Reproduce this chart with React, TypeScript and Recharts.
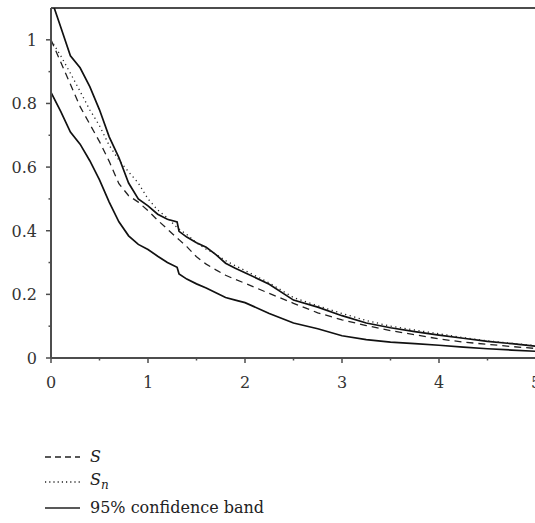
import { LineChart, Line, XAxis, YAxis, Legend, ReferenceLine } from 'recharts'

// time points (non-uniform: denser where the curves bend)
const times = [
  0, 0.1, 0.2, 0.3, 0.4, 0.5, 0.6, 0.7, 0.8, 0.9, 1.0, 1.1, 1.2, 1.3, 1.32, 1.4, 1.5, 1.6, 1.7, 1.8, 1.9, 2.0,
  2.25, 2.5, 2.75, 3.0, 3.25, 3.5, 3.75, 4.0, 4.25, 4.5, 4.75, 5.0,
]

// true survival S (dashed)
const sTrue = [
  1.0, 0.93, 0.86, 0.79, 0.735, 0.68, 0.618, 0.548, 0.51, 0.49, 0.463, 0.433, 0.405, 0.377, 0.372, 0.35, 0.318,
  0.295, 0.277, 0.26, 0.247, 0.235, 0.203, 0.172, 0.142, 0.12, 0.102, 0.086, 0.073, 0.06, 0.05, 0.043, 0.036, 0.03,
]

// estimator S_n (dotted)
const sEmp = [
  1.0, 0.95, 0.895, 0.838, 0.78, 0.73, 0.668, 0.622, 0.585, 0.55, 0.5, 0.465, 0.44, 0.41, 0.405, 0.388, 0.362,
  0.342, 0.326, 0.306, 0.29, 0.275, 0.236, 0.19, 0.164, 0.14, 0.118, 0.1, 0.088, 0.076, 0.064, 0.054, 0.046, 0.039,
]

// 95% confidence band (solid)
const upper = [
  1.13, 1.04, 0.95, 0.912, 0.853, 0.78, 0.695, 0.63, 0.55, 0.5, 0.478, 0.452, 0.436, 0.428, 0.398, 0.38, 0.362,
  0.348, 0.325, 0.298, 0.282, 0.268, 0.232, 0.182, 0.16, 0.133, 0.11, 0.095, 0.083, 0.072, 0.062, 0.052, 0.045, 0.037,
]
const lower = [
  0.835, 0.775, 0.71, 0.672, 0.62, 0.56, 0.49, 0.428, 0.384, 0.357, 0.341, 0.32, 0.3, 0.285, 0.264, 0.248, 0.233,
  0.22, 0.205, 0.19, 0.182, 0.174, 0.14, 0.11, 0.092, 0.07, 0.058, 0.05, 0.045, 0.04, 0.034, 0.029, 0.025, 0.021,
]

const xTicks = [0, 0.5, 1, 1.5, 2, 2.5, 3, 3.5, 4, 4.5, 5]
const yTicks = [0, 0.1, 0.2, 0.3, 0.4, 0.5, 0.6, 0.7, 0.8, 0.9, 1.0]

const data = times.map((t, i) => ({ t, s: sTrue[i], sn: sEmp[i], up: upper[i], lo: lower[i] }))

const FONT = "'DejaVu Serif', serif"
const AXIS = '#4d4d4d'

const XTick = ({ x, y, payload }: any) => {
  const major = Number.isInteger(payload.value)
  return (
    <g>
      <line x1={x} x2={x} y1={y} y2={y + (major ? 5 : 2.5)} stroke={AXIS} strokeWidth={1.5} />
      {major && (
        <text x={x} y={y + 30} textAnchor="middle" style={{ fontFamily: FONT, fontSize: 16 }} fill="#333">
          {payload.value}
        </text>
      )}
    </g>
  )
}

const YTick = ({ x, y, payload }: any) => {
  const major = Math.round(payload.value * 10) % 2 === 0
  return (
    <g>
      <line x1={x} x2={x - (major ? 5 : 2.5)} y1={y} y2={y} stroke={AXIS} strokeWidth={1.5} />
      {major && (
        <text x={x - 14} y={y + 6} textAnchor="end" style={{ fontFamily: FONT, fontSize: 16 }} fill="#333">
          {String(Number(payload.value.toFixed(1)))}
        </text>
      )}
    </g>
  )
}

const legendItems = [
  { key: 's', dash: '6 4', label: <i>S</i> },
  { key: 'sn', dash: '1.2 3', label: <span><i>S</i><sub style={{ fontSize: 12 }}><i>n</i></sub></span> },
  { key: 'band', dash: undefined, label: <span>95% confidence band</span> },
]

const renderLegend = () => (
  <div style={{ fontFamily: FONT, fontSize: 16, color: '#222' }}>
    {legendItems.map((item) => (
      <div key={item.key} style={{ display: 'flex', alignItems: 'center', height: 25.5, whiteSpace: 'nowrap' }}>
        <svg width={36} height={10}>
          <line x1={0} y1={5} x2={35} y2={5} stroke="#222" strokeWidth={1.4} strokeDasharray={item.dash} />
        </svg>
        <span style={{ marginLeft: 9, lineHeight: '18px' }}>{item.label}</span>
      </div>
    ))}
  </div>
)

export default function App() {
  return (
    <div style={{ position: 'absolute', left: 0, top: 0, width: 535, height: 523, overflow: 'hidden', background: '#fff', fontFamily: FONT }}>
      <LineChart width={560} height={523} data={data} margin={{ top: 8, right: 24, bottom: 0, left: 0 }} style={{ fontFamily: FONT }}>
        <XAxis
          dataKey="t"
          type="number"
          domain={[0, 5]}
          ticks={xTicks}
          height={165}
          tickSize={0}
          tickMargin={0}
          tick={<XTick />}
          axisLine={{ stroke: AXIS, strokeWidth: 2 }}
          tickLine={false}
        />
        <YAxis
          type="number"
          domain={[0, 1.1]}
          allowDataOverflow
          ticks={yTicks}
          width={51}
          tickSize={0}
          tickMargin={0}
          tick={<YTick />}
          axisLine={{ stroke: AXIS, strokeWidth: 2 }}
          tickLine={false}
        />
        <ReferenceLine y={1.1} stroke="#111" strokeWidth={1.5} />
        <Line dataKey="up" stroke="#111" strokeWidth={1.7} dot={false} activeDot={false} isAnimationActive={false} />
        <Line dataKey="lo" stroke="#111" strokeWidth={1.7} dot={false} activeDot={false} isAnimationActive={false} />
        <Line dataKey="sn" stroke="#222" strokeWidth={1.3} strokeDasharray="1.2 3.5" dot={false} activeDot={false} isAnimationActive={false} />
        <Line dataKey="s" stroke="#222" strokeWidth={1.3} strokeDasharray="7 5" dot={false} activeDot={false} isAnimationActive={false} />
        <Legend
          layout="vertical"
          align="center"
          verticalAlign="middle"
          content={renderLegend}
          wrapperStyle={{ position: 'absolute', left: 45, top: 444, width: 'auto' }}
        />
      </LineChart>
    </div>
  )
}
